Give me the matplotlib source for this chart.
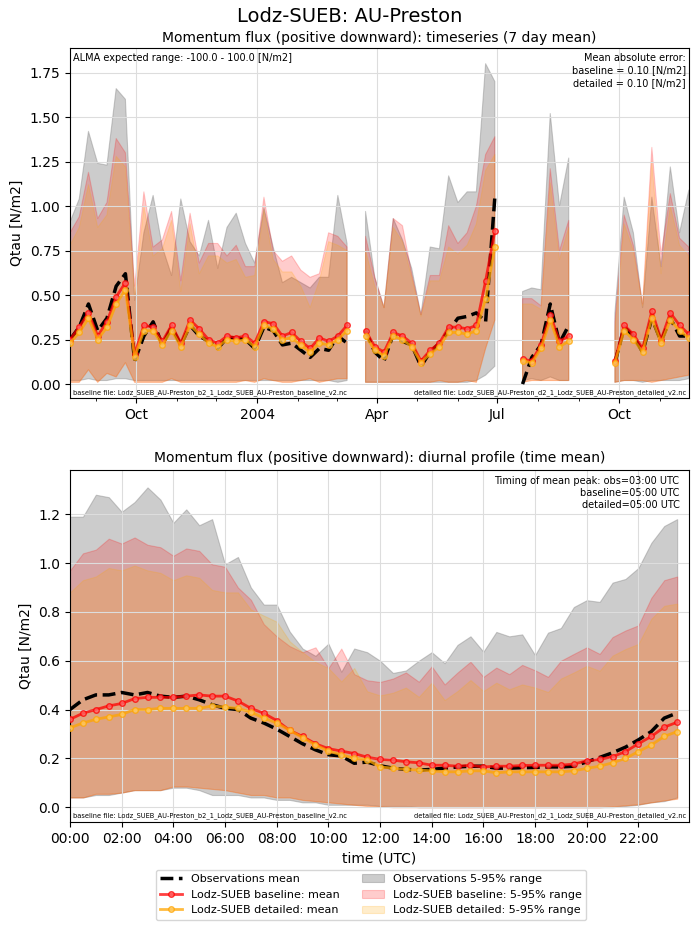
import numpy as np
import pandas as pd
import matplotlib; matplotlib.use("Agg")
import matplotlib.pyplot as plt
import matplotlib.dates as mdates

nan = np.nan
# ---- weekly timeseries (7 day mean) ----
weeks = pd.date_range("2003-08-12", periods=68, freq="7D")
obs_mean = [0.25,0.32,0.45,0.30,0.37,0.55,0.62,0.13,0.27,0.35,0.22,0.32,0.22,0.33,0.27,0.24,0.20,0.26,0.26,0.25,
            0.20,0.32,0.30,0.22,0.23,0.19,0.15,0.20,0.19,0.27,0.23,nan,0.30,0.18,0.13,0.28,0.24,0.22,0.10,0.18,
            0.23,0.30,0.37,0.38,0.40,0.35,1.05,nan,nan,0.0,0.15,0.22,0.45,0.23,0.33,nan,nan,nan,nan,0.12,
            0.32,0.27,0.18,0.37,0.24,0.37,0.27,0.27]
base_mean = [0.25,0.32,0.40,0.27,0.35,0.49,0.57,0.17,0.33,0.32,0.24,0.33,0.23,0.36,0.31,0.25,0.23,0.27,0.26,0.27,
             0.23,0.35,0.34,0.27,0.29,0.24,0.20,0.26,0.24,0.27,0.33,nan,0.30,0.21,0.18,0.29,0.27,0.23,0.13,0.19,
             0.23,0.32,0.32,0.31,0.33,0.58,0.86,nan,nan,0.14,0.13,0.22,0.39,0.24,0.27,nan,nan,nan,nan,0.13,
             0.33,0.28,0.20,0.41,0.25,0.40,0.33,0.28]
det_mean = [0.23,0.29,0.37,0.25,0.32,0.45,0.53,0.15,0.30,0.30,0.22,0.30,0.21,0.33,0.28,0.23,0.21,0.25,0.24,0.25,
            0.21,0.33,0.31,0.25,0.26,0.22,0.18,0.23,0.22,0.25,0.30,nan,0.27,0.19,0.16,0.27,0.25,0.21,0.12,0.17,
            0.21,0.29,0.29,0.28,0.30,0.48,0.77,nan,nan,0.13,0.12,0.20,0.36,0.21,0.24,nan,nan,nan,nan,0.12,
            0.30,0.25,0.18,0.37,0.23,0.36,0.30,0.26]
obs_p95 = [0.91,1.04,1.42,1.24,1.23,1.66,1.60,0.47,0.85,1.06,0.77,0.61,1.04,0.80,0.72,0.92,0.65,0.88,0.96,0.79,
           0.68,0.99,0.77,0.57,0.60,0.57,0.54,0.60,0.60,1.06,0.79,nan,0.97,0.60,0.43,0.93,0.81,0.65,0.39,0.77,
           0.76,1.17,1.02,1.08,1.08,1.80,1.70,nan,nan,0.52,0.54,0.53,1.52,1.00,1.27,nan,nan,nan,nan,0.40,
           1.05,0.85,0.43,1.05,0.66,1.22,0.85,1.09]
base_p95 = [0.85,0.94,1.19,0.93,1.02,1.38,1.30,0.55,1.08,0.77,0.81,0.97,0.58,0.96,0.68,0.79,0.79,0.72,0.78,0.66,
            0.66,1.05,0.75,0.69,0.72,0.64,0.60,0.62,0.85,0.83,0.77,nan,0.83,0.60,0.43,0.93,0.89,0.62,0.39,0.61,
            0.61,0.89,0.79,0.85,1.00,1.29,1.39,nan,nan,0.48,0.48,0.44,1.21,0.75,0.92,nan,nan,nan,nan,0.35,
            0.95,0.78,0.45,1.33,0.73,1.07,0.82,0.77]
det_p95 = [0.78,0.88,1.12,0.88,0.95,1.28,1.22,0.50,1.00,0.72,0.76,0.92,0.52,0.90,0.62,0.72,0.72,0.68,0.70,0.60,
           0.61,0.98,0.70,0.63,0.63,0.55,0.43,0.58,0.80,0.78,0.75,nan,0.75,0.55,0.43,0.88,0.80,0.60,0.38,0.58,
           0.58,0.77,0.73,0.78,0.90,1.20,1.29,nan,nan,0.45,0.45,0.42,1.13,0.70,0.88,nan,nan,nan,nan,0.30,
           0.90,0.75,0.44,1.25,0.62,1.00,0.78,0.72]
obs_p5 = [0.02,0.02,0.03,0.02,0.02,0.03,0.03,0.02,0.02,0.02,0.02,0.02,0.02,0.02,0.02,0.02,0.02,0.02,0.02,0.02,
          0.02,0.02,0.02,0.02,0.02,0.02,0.02,0.02,0.02,0.01,0.02,nan,0.01,0.01,0.01,0.01,0.01,0.01,0.01,0.01,
          0.01,0.01,0.01,0.01,0.02,0.05,0.10,nan,nan,0.02,0.03,0.02,0.04,0.02,0.02,nan,nan,nan,nan,0.01,
          0.02,0.02,0.01,0.02,0.02,0.02,0.02,0.03]
mod_p5 = [0.01,0.01,0.08,0.01,0.06,0.04,0.12,0.01,0.01,0.01,0.01,0.03,0.01,0.01,0.01,0.01,0.01,0.01,0.01,0.02,
          0.01,0.03,0.02,0.01,0.01,0.02,0.03,0.01,0.02,0.03,0.03,nan,0.01,0.01,0.01,0.01,0.01,0.01,0.01,0.01,
          0.02,0.01,0.01,0.02,0.01,0.20,0.36,nan,nan,0.01,0.02,0.02,0.02,0.02,0.02,nan,nan,nan,nan,0.01,
          0.02,0.02,0.02,0.01,0.02,0.03,0.04,0.05]

# ---- diurnal profile (half-hourly) ----
hours = np.arange(48) * 0.5
d_obs = [0.40,0.44,0.46,0.46,0.47,0.46,0.47,0.455,0.45,0.455,0.44,0.42,0.405,0.40,0.365,0.345,0.32,0.29,0.26,0.235,
         0.215,0.21,0.18,0.185,0.17,0.16,0.155,0.152,0.155,0.16,0.165,0.168,0.168,0.16,0.16,0.162,0.163,0.165,0.165,0.168,
         0.186,0.204,0.223,0.246,0.276,0.31,0.365,0.386]
d_base = [0.36,0.385,0.40,0.415,0.425,0.445,0.45,0.45,0.45,0.455,0.46,0.455,0.455,0.435,0.405,0.385,0.355,0.315,0.29,0.26,
          0.24,0.23,0.22,0.205,0.196,0.193,0.186,0.182,0.172,0.172,0.168,0.172,0.165,0.168,0.168,0.171,0.172,0.172,0.172,0.177,
          0.19,0.196,0.207,0.228,0.26,0.29,0.328,0.348]
d_det = [0.325,0.345,0.36,0.37,0.38,0.40,0.40,0.405,0.405,0.405,0.405,0.415,0.41,0.405,0.39,0.365,0.345,0.315,0.285,0.255,
         0.23,0.215,0.20,0.195,0.165,0.16,0.155,0.152,0.149,0.145,0.145,0.149,0.149,0.141,0.145,0.145,0.145,0.145,0.145,0.149,
         0.159,0.168,0.182,0.20,0.228,0.255,0.29,0.31]
d_obs_p95 = [1.19,1.19,1.28,1.27,1.21,1.25,1.31,1.26,1.165,1.22,1.155,1.18,0.995,1.025,0.90,0.83,0.83,0.72,0.65,0.62,
             0.67,0.555,0.65,0.635,0.60,0.55,0.56,0.60,0.635,0.59,0.665,0.70,0.637,0.718,0.70,0.708,0.623,0.715,0.734,0.82,
             0.848,0.841,0.92,0.935,0.98,1.083,1.152,1.18]
d_base_p95 = [0.97,1.04,1.055,1.10,1.08,1.105,1.075,1.065,1.03,1.06,1.05,0.995,0.985,0.90,0.85,0.75,0.70,0.66,0.635,0.655,
              0.57,0.65,0.545,0.52,0.513,0.527,0.552,0.514,0.577,0.503,0.552,0.596,0.534,0.572,0.545,0.583,0.561,0.534,0.60,0.628,
              0.655,0.628,0.697,0.724,0.745,0.858,0.93,0.945]
d_det_p95 = [0.88,0.93,0.945,0.98,0.97,0.99,0.97,0.96,0.93,0.95,0.94,0.89,0.88,0.88,0.81,0.785,0.76,0.68,0.635,0.595,
             0.57,0.515,0.57,0.475,0.458,0.469,0.49,0.452,0.51,0.439,0.476,0.521,0.476,0.51,0.483,0.503,0.49,0.472,0.527,0.552,
             0.579,0.559,0.621,0.648,0.669,0.772,0.825,0.834]
d_obs_p5 = [0.04,0.04,0.05,0.05,0.06,0.07,0.07,0.07,0.08,0.08,0.07,0.05,0.05,0.05,0.04,0.04,0.03,0.03,0.02,0.02,
            0.01,0.01,0.01,0.01,0.005,0.005,0.005,0.0,0.0,0.0,0.0,0.0,0.0,0.0,0.0,0.0,0.0,0.0,0.0,0.0,
            0.0,0.0,0.0,0.005,0.01,0.02,0.025,0.04]
d_mod_p5 = [0.04,0.04,0.055,0.055,0.06,0.07,0.07,0.07,0.085,0.085,0.08,0.075,0.07,0.06,0.05,0.05,0.04,0.04,0.03,0.025,
            0.02,0.015,0.01,0.005,0.003,0.0,0.0,0.0,0.0,0.0,0.0,0.0,0.0,0.0,0.0,0.0,0.0,0.0,0.0,0.0,
            0.0,0.0,0.003,0.008,0.012,0.02,0.028,0.035]


def draw(ax, x, om, bm, dm, op95, bp95, dp95, op5, mp5):
    ax.fill_between(x, op5, op95, color="grey", alpha=0.4, edgecolor="grey", lw=0.8, label="Observations 5-95% range")
    ax.fill_between(x, mp5, bp95, color="red", alpha=0.2, edgecolor="red", lw=0.8, label="Lodz-SUEB baseline: 5-95% range")
    ax.fill_between(x, mp5, dp95, color="orange", alpha=0.2, edgecolor="orange", lw=0.8, label="Lodz-SUEB detailed: 5-95% range")
    ax.plot(x, om, "k--", lw=2.5, label="Observations mean", zorder=4)
    ax.plot(x, bm, "-o", color="red", alpha=0.75, lw=2, ms=4, mfc=(1, 0.4, 0.4, 0.5), label="Lodz-SUEB baseline: mean", zorder=5)
    ax.plot(x, dm, "-o", color="orange", alpha=0.75, lw=2, ms=4, mfc=(1, 0.8, 0.4, 0.5), label="Lodz-SUEB detailed: mean", zorder=5)
    ax.grid(True, color="#dddddd", lw=0.8)
    ax.set_ylabel("Qtau [N/m2]")
    ax.text(0.005, 0.007, "baseline file: Lodz_SUEB_AU-Preston_b2_1_Lodz_SUEB_AU-Preston_baseline_v2.nc",
            transform=ax.transAxes, fontsize=4.8, va="bottom")
    ax.text(0.995, 0.007, "detailed file: Lodz_SUEB_AU-Preston_d2_1_Lodz_SUEB_AU-Preston_detailed_v2.nc",
            transform=ax.transAxes, fontsize=4.8, va="bottom", ha="right")


fig = plt.figure(figsize=(7, 9.35), dpi=100)
ax1 = fig.add_axes([0.1, 0.574, 0.884, 0.375])
ax2 = fig.add_axes([0.1, 0.121, 0.884, 0.376])

draw(ax1, weeks, obs_mean, base_mean, det_mean, obs_p95, base_p95, det_p95, obs_p5, mod_p5)
ax1.set_xlim(weeks[0], weeks[-1])
ax1.set_ylim(-0.08, 1.89)
ax1.xaxis.set_major_locator(mdates.MonthLocator(bymonth=[1, 4, 7, 10]))
ax1.xaxis.set_minor_locator(mdates.MonthLocator())
ax1.xaxis.set_major_formatter(mdates.ConciseDateFormatter(ax1.xaxis.get_major_locator(), show_offset=False))
ax1.set_title("Momentum flux (positive downward): timeseries (7 day mean)", fontsize=10, pad=4)
ax1.text(0.005, 0.985, "ALMA expected range: -100.0 - 100.0 [N/m2]", transform=ax1.transAxes, fontsize=7, va="top")
ax1.text(0.995, 0.985, "Mean absolute error:\nbaseline = 0.10 [N/m2]\ndetailed = 0.10 [N/m2]",
         transform=ax1.transAxes, fontsize=7, va="top", ha="right", linespacing=1.3)

draw(ax2, hours, d_obs, d_base, d_det, d_obs_p95, d_base_p95, d_det_p95, d_obs_p5, d_mod_p5)
ax2.set_xlim(0, 23.95)
ax2.set_ylim(-0.06, 1.38)
ax2.set_xticks(np.arange(0, 24, 2))
ax2.set_xticklabels([f"{h:02d}:00" for h in range(0, 24, 2)])
ax2.set_xlabel("time (UTC)")
ax2.set_title("Momentum flux (positive downward): diurnal profile (time mean)", fontsize=10, pad=6)
ax2.text(0.985, 0.985, "Timing of mean peak: obs=03:00 UTC\nbaseline=05:00 UTC\ndetailed=05:00 UTC",
         transform=ax2.transAxes, fontsize=7, va="top", ha="right", linespacing=1.3)

h, l = ax2.get_legend_handles_labels()
order = [3, 4, 5, 0, 1, 2]
fig.legend([h[i] for i in order], [l[i] for i in order], loc="center", ncol=2, fontsize=8,
           bbox_to_anchor=(0.53, 0.043))
fig.suptitle("Lodz-SUEB: AU-Preston", fontsize=14, y=0.993)
fig.savefig("out.png", dpi=100)
